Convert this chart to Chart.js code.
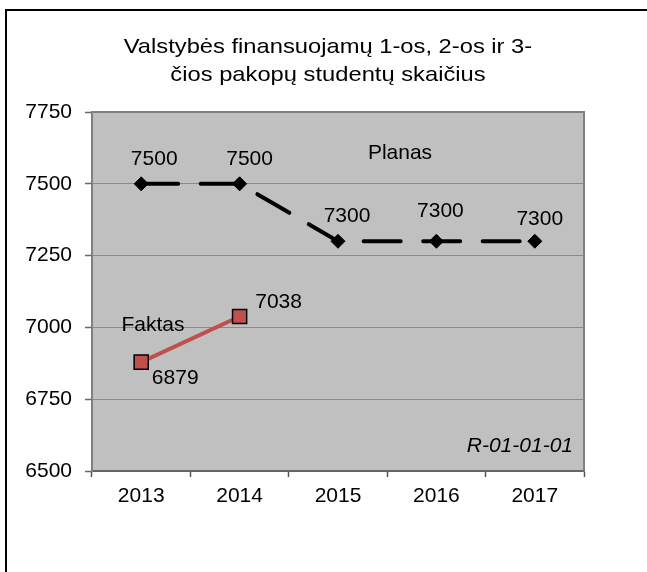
<!DOCTYPE html>
<html><head><meta charset="utf-8">
<script src="https://cdn.jsdelivr.net/npm/chart.js@4/dist/chart.umd.min.js"></script>
<style>html,body{margin:0;padding:0;background:#fff}#wrap{width:647px;height:572px;position:relative}canvas{display:block}</style>
</head><body><div id="wrap"><canvas id="c" width="647" height="572"></canvas></div>
<script>
const categories = ['2013', '2014', '2015', '2016', '2017'];
const planas = [7500, 7500, 7300, 7300, 7300];
const faktas = [6879, 7038, null, null, null];
const yTicks = [6500, 6750, 7000, 7250, 7500, 7750];
const titleLines = ['Valstybės finansuojamų 1-os, 2-os ir 3-', 'čios pakopų studentų skaičius'];
const seriesNames = ['Planas', 'Faktas'];
const sourceNote = 'R-01-01-01';

const FONT = '"Liberation Sans", Arial, sans-serif';

// label offsets (px) relative to each point
const labelOffsets = [
  [[13, -25], [10, -25], [9, -25], [4, -30], [5, -22]],
  [[34, 16], [39, -14]]
];

const decor = {
  id: 'decor',
  beforeDraw(chart) {
    const {ctx, chartArea: a} = chart;
    ctx.save();
    ctx.fillStyle = '#fff';
    ctx.fillRect(0, 0, chart.width, chart.height);
    // outer frame
    ctx.strokeStyle = '#000';
    ctx.lineWidth = 2;
    ctx.beginPath();
    ctx.moveTo(6, chart.height + 5);
    ctx.lineTo(6, 10);
    ctx.lineTo(chart.width + 5, 10);
    ctx.stroke();
    // plot background
    ctx.fillStyle = '#c0c0c0';
    ctx.fillRect(a.left, a.top, a.right - a.left, a.bottom - a.top);
    // title (slightly widened like the original rendering)
    ctx.fillStyle = '#000';
    ctx.font = '21px ' + FONT;
    ctx.textAlign = 'center';
    ctx.textBaseline = 'alphabetic';
    ctx.translate(328, 0);
    ctx.scale(1.13, 1);
    ctx.fillText(titleLines[0], 0, 53);
    ctx.fillText(titleLines[1], 0, 81);
    ctx.restore();
  },
  beforeDatasetsDraw(chart) {
    const {ctx, chartArea: a} = chart;
    ctx.save();
    ctx.strokeStyle = '#808080';
    ctx.lineWidth = 2;
    ctx.beginPath();
    ctx.moveTo(a.left, a.top);
    ctx.lineTo(a.right, a.top);
    ctx.lineTo(a.right, a.bottom);
    ctx.stroke();
    ctx.restore();
  },
  afterDatasetsDraw(chart) {
    const {ctx} = chart;
    const xs = chart.scales.x, ys = chart.scales.y;
    ctx.save();
    ctx.fillStyle = '#000';
    ctx.font = '21px ' + FONT;
    ctx.textAlign = 'center';
    ctx.textBaseline = 'middle';
    chart.data.datasets.forEach((ds, di) => {
      const meta = chart.getDatasetMeta(di);
      meta.data.forEach((pt, j) => {
        const v = ds.data[j];
        if (v === null || v === undefined) return;
        const off = labelOffsets[di][j] || [0, -20];
        ctx.fillText(String(v), pt.x + off[0], pt.y + off[1]);
      });
    });
    // series name annotations
    ctx.fillText(seriesNames[0], xs.getPixelForValue(2.63), ys.getPixelForValue(7607));
    ctx.fillText(seriesNames[1], xs.getPixelForValue(0.12), ys.getPixelForValue(7008));
    ctx.font = 'italic 21px ' + FONT;
    ctx.textAlign = 'right';
    ctx.fillText(sourceNote, chart.chartArea.right - 11, ys.getPixelForValue(6587));
    ctx.restore();
  }
};

new Chart(document.getElementById('c'), {
  type: 'line',
  data: {
    labels: categories,
    datasets: [
      {
        label: seriesNames[0],
        data: planas,
        borderColor: '#000',
        borderWidth: 4,
        borderDash: [37, 22.5],
        borderCapStyle: 'round',
        tension: 0,
        pointStyle: 'rectRot',
        pointRadius: 7,
        pointBackgroundColor: '#000',
        pointBorderColor: '#000',
        pointBorderWidth: 1,
        fill: false
      },
      {
        label: seriesNames[1],
        data: faktas,
        borderColor: '#c0504d',
        borderWidth: 4,
        tension: 0,
        pointStyle: 'rect',
        pointRadius: 10,
        pointBackgroundColor: '#c0504d',
        pointBorderColor: '#000',
        pointBorderWidth: 1.5,
        spanGaps: false,
        fill: false
      }
    ]
  },
  options: {
    responsive: false,
    animation: false,
    devicePixelRatio: 1,
    layout: { padding: { top: 112, right: 63, bottom: 61, left: 0 } },
    plugins: { legend: { display: false }, title: { display: false }, tooltip: { enabled: false } },
    scales: {
      x: {
        type: 'category',
        offset: true,
        afterFit(s) { s.height = 40; },
        grid: { drawOnChartArea: false, offset: true, tickLength: 6, tickColor: '#555', tickWidth: 1.5 },
        border: { display: true, color: '#666', width: 2 },
        ticks: { color: '#000', font: { family: FONT, size: 21 }, padding: 7, maxRotation: 0, autoSkip: false }
      },
      y: {
        min: 6500,
        max: 7750,
        afterFit(s) { s.width = 92; },
        afterBuildTicks(s) { s.ticks = yTicks.map(v => ({ value: v })); },
        grid: { color: '#8a8a8a', lineWidth: 1, borderDash: [1, 1], tickLength: 7, tickColor: '#666', tickWidth: 1.5, tickBorderDash: [] },
        border: { display: true, color: '#808080', width: 2 },
        ticks: { color: '#000', font: { family: FONT, size: 21 }, padding: 13, callback: v => String(v) }
      }
    }
  },
  plugins: [decor]
});
</script>
</body></html>
